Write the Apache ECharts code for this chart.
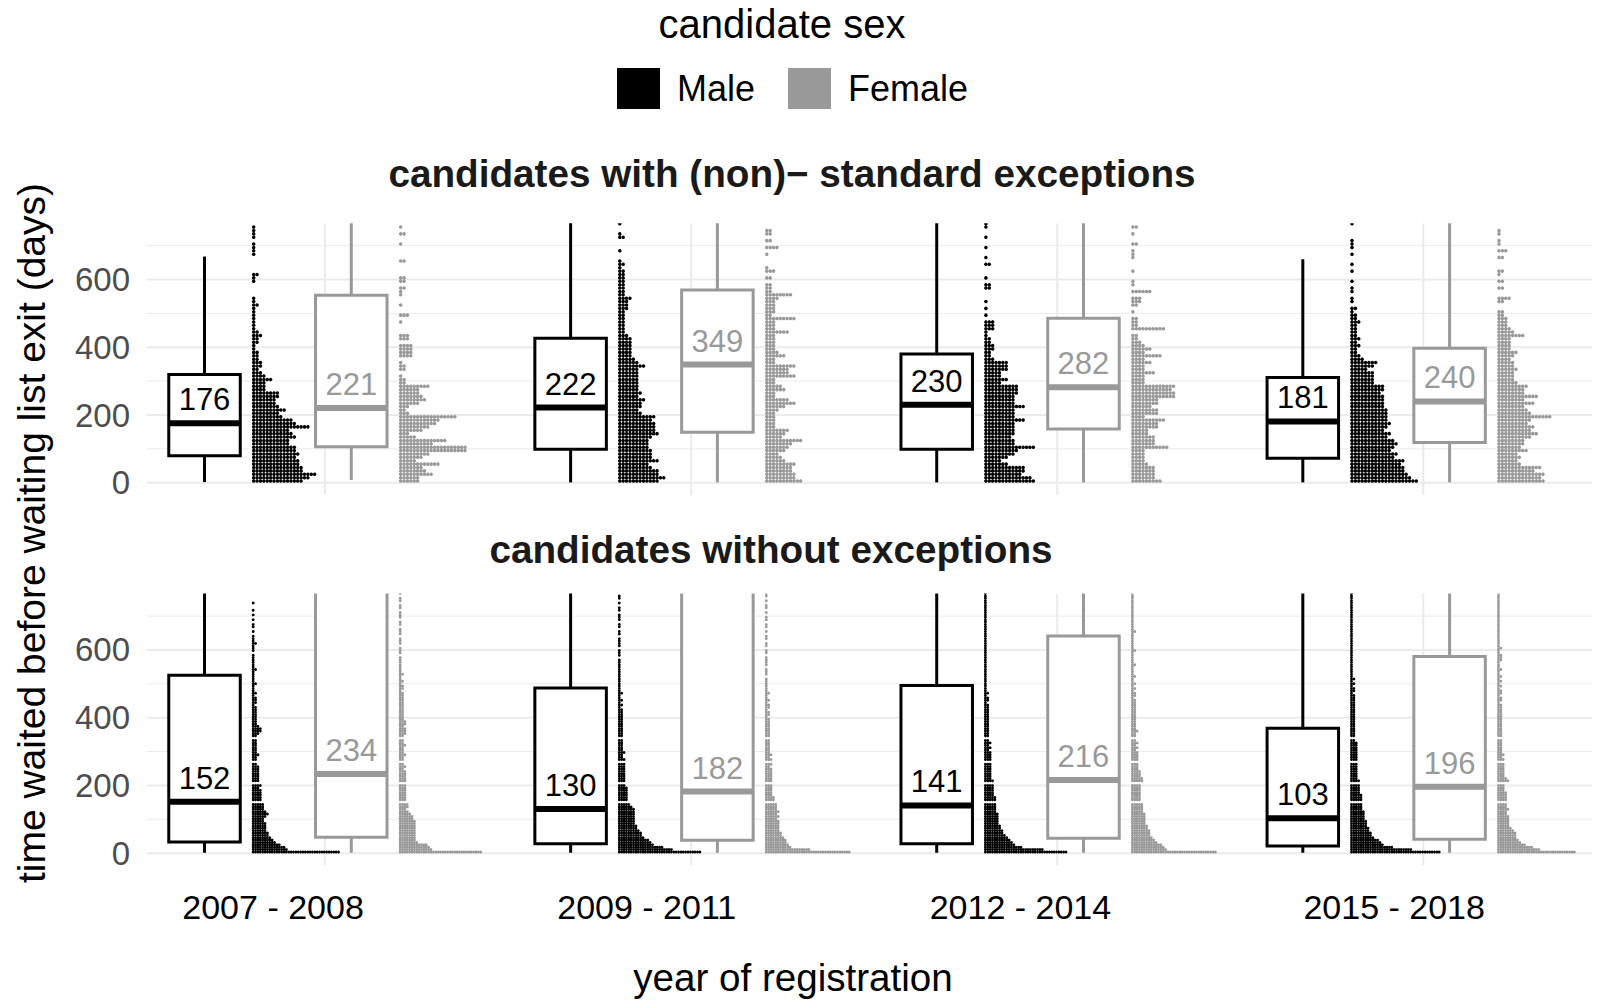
<!DOCTYPE html>
<html>
<head>
<meta charset="utf-8">
<script src="https://cdn.jsdelivr.net/npm/echarts@6/dist/echarts.min.js"></script>
<style>
html,body{margin:0;padding:0;background:#fff;}
#chart{width:1600px;height:1006px;}
</style>
</head>
<body>
<div id="chart"></div>
<script>
// ---------------- DATA ----------------
const periods = ['2007 - 2008', '2009 - 2011', '2012 - 2014', '2015 - 2018'];
const sexes = ['Male', 'Female'];
const panelTitles = ['candidates with (non)\u2212 standard exceptions', 'candidates without exceptions'];
const yTicks = [0, 200, 400, 600];
const yMinorTicks = [100, 300, 500, 700];

// box statistics per period: [lower whisker, Q1, median, Q3, upper whisker] (days)
const boxExcMale      = [[2, 80, 176, 320, 668], [1, 99, 222, 427, 1100], [1, 99, 230, 380, 1000], [1, 72, 181, 311, 660]];
const boxExcFemale    = [[8, 106, 221, 554, 1200], [1, 149, 349, 569, 1200], [1, 159, 282, 486, 1100], [1, 119, 240, 397, 1000]];
const boxNoExcMale    = [[1, 33, 152, 525, 1300], [1, 28, 130, 488, 1200], [1, 28, 141, 495, 1200], [1, 21, 103, 369, 900]];
const boxNoExcFemale  = [[1, 47, 234, 850, 1700], [1, 38, 182, 800, 1600], [1, 44, 216, 641, 1500], [1, 41, 196, 581, 1400]];

// dot-plot bin widths (days)
const binExc = 10;
const binNoExc = 7;

// dot counts per bin (bin i covers i*bin .. (i+1)*bin days), one list per period
const dotsExcMale = [
 [15,17,19,15,15,14,14,13,14,13, 13,11,11,13,12,11,17,13,12,9, 8,10,8,7,7,8,8,4,4,4, 6,4,3,2,3,3,2,2,2,1, 1,2,2,3,2,1,1,1,1,1, 1,1,2,1,1,0,0,0,0,1, 1,2,0,0,0,0,0,1,1,1, 1,0,1,1,1,1,0],
 [12,14,12,12,10,9,12,10,10,10, 9,9,9,10,12,11,11,11,10,11, 7,6,7,7,8,6,7,6,6,6, 6,6,6,6,8,6,5,4,4,4, 4,4,4,3,2,2,2,2,2,2, 2,3,3,3,4,2,2,2,2,2, 2,2,2,1,2,1,0,0,1,0, 0,0,2,1,0,0,1],
 [15,14,11,12,12,7,5,7,9,10, 15,9,9,8,9,9,9,9,12,9, 9,9,12,9,9,9,10,10,10,5, 7,5,5,7,7,7,3,2,2,3, 3,2,2,1,1,3,3,3,0,1, 0,1,0,1,0,0,0,2,2,0, 1,0,0,0,2,0,1,0,0,1, 0,0,1,0,0,1,1],
 [20,18,17,16,16,15,16,13,14,12, 13,14,13,11,12,10,11,12,11,11, 11,11,10,10,10,10,9,10,10,7, 7,7,7,5,7,8,4,3,2,2, 3,2,3,2,2,2,2,3,2,2, 1,2,0,1,1,0,1,1,0,1, 0,0,1,0,1,0,0,1,0,1, 1,1,0,0,0,0,1]
];
const dotsExcFemale = [
 [6,6,10,8,7,12,5,7,9,20, 20,10,14,5,3,7,9,11,12,17, 3,2,3,6,8,7,6,6,9,2, 2,1,0,2,2,1,0,4,4,4, 4,0,3,3,0,0,0,1,0,3, 0,0,1,0,0,1,1,2,0,2, 2,0,0,0,0,2,0,0,0,0, 1,0,0,2,0,1,0],
 [11,9,9,8,8,9,6,5,4,6, 7,8,11,5,6,7,3,3,3,3, 3,4,6,9,7,3,3,6,5,3, 3,9,7,7,9,3,3,6,4,3, 3,3,3,3,7,3,3,3,9,2, 3,3,3,3,4,8,2,2,2,0, 2,0,3,1,0,0,0,1,0,4, 0,2,0,2,2,0,0],
 [9,7,7,7,7,5,4,4,4,4, 11,7,7,7,5,5,8,8,10,4, 8,8,6,8,8,13,13,12,13,4, 4,4,7,4,4,6,4,9,4,6, 4,3,2,2,0,10,2,2,2,0, 1,0,2,3,3,0,6,0,1,1, 0,0,1,0,0,0,1,1,1,0, 2,0,0,1,0,2,0],
 [14,13,14,11,13,7,6,7,6,9, 7,8,8,10,12,10,11,9,10,16, 10,9,8,11,8,12,8,8,9,6, 5,5,5,6,5,5,4,5,6,4, 4,4,4,8,5,4,3,3,3,2, 2,0,0,2,4,0,0,2,0,2, 0,1,2,0,0,0,2,0,3,0, 1,1,0,1,1,0,0]
];
const dotsNoExcMale = [
 [37,15,14,12,10,9,8,7,7,6, 6,6,6,5,5,6,7,6,5,5, 5,4,4,4,4,4,4,3,4,3, 3,3,3,3,3,3,3,2,3,2, 2,3,2,2,2,2,2,2,2,2, 3,4,4,3,2,2,2,2,2,2, 2,2,1,2,2,2,1,2,1,1, 1,2,1,1,1,1,1,2,1,1, 1,1,1,1,0,1,1,1,2,1, 1,1,0,1,0,1,1,0,1,0, 1,0,1,0,0,1,0,0,0,0],
 [35,23,19,15,14,13,11,10,10,9, 8,8,7,7,7,7,7,7,7,6, 5,5,4,4,4,4,4,4,3,3, 3,3,3,3,3,3,3,3,2,3, 2,2,3,2,2,2,2,2,2,2, 2,2,2,2,2,2,2,2,2,2, 2,1,2,1,2,1,1,2,1,1, 1,1,1,1,1,1,1,1,1,1, 1,1,0,1,1,1,0,1,1,1, 1,0,1,1,0,1,1,0,1,1, 1,0,1,1,0,1,0,1,1,0],
 [35,25,16,13,12,11,10,9,8,8, 7,7,6,6,6,6,6,5,5,5, 5,5,5,5,4,4,4,4,4,4, 4,3,3,3,3,3,3,3,3,3, 3,3,3,2,3,2,3,2,2,2, 2,2,2,2,2,2,2,2,2,2, 2,2,2,1,2,2,1,2,1,1, 1,1,1,1,1,1,1,1,1,1, 1,1,1,1,1,1,1,1,1,1, 1,1,1,1,1,1,1,1,1,1, 1,1,1,1,1,1,1,1,1,1],
 [38,26,18,14,13,12,10,9,9,8, 8,7,7,7,6,6,6,6,5,5, 5,5,5,5,5,4,4,4,4,4, 4,3,3,3,3,3,3,3,3,3, 3,3,3,3,3,3,3,2,2,2, 2,2,2,2,2,2,2,2,2,2, 2,2,2,2,2,2,2,1,2,2, 1,2,1,2,1,1,1,1,1,1, 1,1,1,1,1,1,1,1,1,1, 1,1,1,1,1,1,1,1,1,1, 1,1,1,1,1,1,1,1,1,1]
];
const dotsNoExcFemale = [
 [35,14,13,12,8,7,7,7,7,7, 7,7,7,7,6,6,5,4,3,4, 4,4,3,3,3,3,3,3,3,3, 3,3,3,3,3,2,3,2,3,2, 2,3,2,2,2,3,2,2,2,2, 3,3,3,2,3,3,2,2,2,2, 2,2,2,2,2,2,2,2,1,2, 2,1,2,1,1,2,1,1,1,1, 1,1,1,0,1,1,1,0,1,1, 1,0,1,1,1,0,1,1,0,1, 1,1,0,1,1,0,1,1,0,1],
 [36,19,11,10,9,9,8,7,7,6, 6,6,6,6,5,6,5,6,5,5, 5,4,4,4,3,3,3,3,3,3, 3,3,3,3,3,3,2,3,2,3, 2,3,2,2,2,2,2,2,2,2, 2,2,2,2,2,2,2,1,2,2, 1,2,2,1,2,1,1,2,1,1, 1,1,1,1,0,1,1,1,0,1, 1,1,1,0,1,1,0,1,1,0, 1,1,0,1,0,1,1,0,1,1, 0,1,0,1,1,0,1,0,1,1],
 [36,15,14,13,11,10,9,8,8,8, 7,7,6,6,6,6,6,5,5,5, 5,5,4,4,4,4,4,4,4,3, 5,5,4,4,4,3,3,3,3,3, 3,3,3,2,3,2,3,2,2,2, 2,3,2,2,2,2,2,2,2,2, 2,2,2,2,2,1,2,2,1,2, 1,2,1,1,2,1,1,1,1,2, 1,1,1,1,1,2,1,1,1,1, 1,1,1,2,1,1,1,1,1,1, 1,1,1,1,1,1,1,1,1,1],
 [33,18,15,12,10,9,8,8,8,7, 6,5,5,5,5,5,4,4,5,4, 4,4,4,4,4,4,3,3,3,3, 5,4,3,3,3,3,3,3,2,3, 2,3,2,2,2,2,2,2,2,2, 2,2,2,2,2,2,2,2,2,2, 2,2,2,1,2,2,1,2,2,1, 2,1,2,1,2,1,1,2,1,1, 1,2,2,2,1,1,2,1,1,1, 1,1,1,1,1,1,1,1,1,1, 1,1,1,1,1,1,1,1,1,1]
];

// ---------------- LAYOUT / STYLE ----------------
const FONT = '"Liberation Sans", Arial, Helvetica, sans-serif';
const COL = {Male: '#000000', Female: '#999999'};
const GRID_COL = '#ebebeb';
const X_MIN = 0.5138, X_MAX = 4.4608;       // period i sits at x = i (1..4)
const OFF = {MaleBox: -0.3291, FemaleBox: 0.0718, MaleDots: -0.1994, FemaleDots: 0.2021};
const BOX_W = 0.1953;
const Y_MIN = -36.5, Y_MAX = 766.5;

function boxSeries(name, gi, stats) {
  const color = COL[name], off = OFF[name + 'Box'];
  return {
    type: 'custom', name: name, xAxisIndex: gi, yAxisIndex: gi, clip: true, z: 4,
    itemStyle: {color: color},
    data: stats.map((s, p) => [p + 1].concat(s)),
    renderItem: function (params, api) {
      const p = api.value(0);
      const lo = api.value(1), q1 = api.value(2), med = api.value(3), q3 = api.value(4), hi = api.value(5);
      const cx = api.coord([p + off, med])[0];
      const w = api.size([BOX_W, 0])[0];
      const yLo = api.coord([p, lo])[1], yQ1 = api.coord([p, q1])[1], yMed = api.coord([p, med])[1];
      const yQ3 = api.coord([p, q3])[1], yHi = api.coord([p, hi])[1];
      return {
        type: 'group',
        children: [
          {type: 'line', shape: {x1: cx, y1: yQ1, x2: cx, y2: yLo}, style: {stroke: color, lineWidth: 3}},
          {type: 'line', shape: {x1: cx, y1: yQ3, x2: cx, y2: yHi}, style: {stroke: color, lineWidth: 3}},
          {type: 'rect', shape: {x: cx - w / 2, y: yQ3, width: w, height: yQ1 - yQ3}, style: {fill: '#ffffff', stroke: color, lineWidth: 3}},
          {type: 'line', shape: {x1: cx - w / 2, y1: yMed, x2: cx + w / 2, y2: yMed}, style: {stroke: color, lineWidth: 6}},
          {type: 'text', style: {text: String(Math.round(med)), x: cx, y: yMed - 8, align: 'center', verticalAlign: 'bottom',
            textAlign: 'center', textVerticalAlign: 'bottom', fontSize: 31, fontFamily: FONT, fill: color}}
        ]
      };
    }
  };
}

function dotSeries(name, gi, stacks, bin, rFactor) {
  const color = COL[name], off = OFF[name + 'Dots'];
  const data = [];
  stacks.forEach((rows, p) => rows.forEach((n, i) => { if (n > 0) data.push([p + 1, bin * (i + 0.5), n]); }));
  return {
    type: 'custom', name: name, xAxisIndex: gi, yAxisIndex: gi, clip: true, z: 3,
    itemStyle: {color: color},
    data: data,
    renderItem: function (params, api) {
      const pt = api.coord([api.value(0) + off, api.value(1)]);
      const n = api.value(2);
      const d = api.size([0, bin])[1];
      const r = d * rFactor;
      const children = [];
      for (let j = 0; j < n; j++) {
        children.push({type: 'circle', shape: {cx: pt[0] + d * (j + 0.5), cy: pt[1], r: r}, style: {fill: color}});
      }
      return {type: 'group', children: children};
    }
  };
}

function gridSeries(gi) {
  const data = yTicks.map(v => [v, 0]).concat(yMinorTicks.map(v => [v, 1])).concat(periods.map((c, i) => [i + 1, 2]));
  return {
    type: 'custom', xAxisIndex: gi, yAxisIndex: gi, clip: true, z: 1, silent: true,
    data: data,
    renderItem: function (params, api) {
      const cs = params.coordSys;
      const v = api.value(0), kind = api.value(1);
      if (kind === 2) {
        const x = api.coord([v, 0])[0];
        return {type: 'line', shape: {x1: x, y1: cs.y, x2: x, y2: cs.y + cs.height}, style: {stroke: GRID_COL, lineWidth: 2}};
      }
      const y = api.coord([1, v])[1];
      return {type: 'line', shape: {x1: cs.x, y1: y, x2: cs.x + cs.width, y2: y},
        style: {stroke: GRID_COL, lineWidth: kind === 0 ? 2 : 1}};
    }
  };
}

const yAxisCommon = {
  type: 'value', min: Y_MIN, max: Y_MAX,
  axisLine: {show: false}, axisTick: {show: false}, splitLine: {show: false},
  axisLabel: {customValues: yTicks, fontSize: 33, color: '#4d4d4d', fontFamily: FONT, margin: 17}
};

const option = {
  animation: false,
  backgroundColor: '#ffffff',
  textStyle: {fontFamily: FONT},
  grid: [
    {left: 147, right: 8, top: 223.2, height: 271.9},
    {left: 147, right: 8, top: 593.6, height: 271.9},
    {left: 86.2, width: 1494.8, top: 864.5, height: 1}
  ],
  xAxis: [
    {gridIndex: 0, type: 'value', min: X_MIN, max: X_MAX, show: false},
    {gridIndex: 1, type: 'value', min: X_MIN, max: X_MAX, show: false},
    {gridIndex: 2, type: 'category', data: periods, position: 'bottom',
      axisLine: {show: false}, axisTick: {show: false}, splitLine: {show: false},
      axisLabel: {fontSize: 34, color: '#000000', fontFamily: FONT, margin: 24}}
  ],
  yAxis: [
    Object.assign({gridIndex: 0}, yAxisCommon),
    Object.assign({gridIndex: 1}, yAxisCommon),
    {gridIndex: 2, type: 'value', show: false}
  ],
  legend: {
    data: sexes, left: 617, top: 68, itemWidth: 43, itemHeight: 41, itemGap: 33, icon: 'rect', padding: 0,
    selectedMode: false,
    textStyle: {fontSize: 36, color: '#000000', fontFamily: FONT, padding: [0, 0, 0, 12]}
  },
  graphic: [
    {type: 'text', x: 782, y: 24, style: {text: 'candidate sex', fontSize: 40, fontFamily: FONT, fill: '#000',
      align: 'center', verticalAlign: 'middle', textAlign: 'center', textVerticalAlign: 'middle'}},
    {type: 'text', x: 792, y: 173.5, style: {text: panelTitles[0], fontSize: 38.7, fontWeight: 'bold', fontFamily: FONT, fill: '#1a1a1a',
      align: 'center', verticalAlign: 'middle', textAlign: 'center', textVerticalAlign: 'middle'}},
    {type: 'text', x: 771, y: 549, style: {text: panelTitles[1], fontSize: 38.7, fontWeight: 'bold', fontFamily: FONT, fill: '#1a1a1a',
      align: 'center', verticalAlign: 'middle', textAlign: 'center', textVerticalAlign: 'middle'}},
    {type: 'text', x: 31, y: 533, rotation: Math.PI / 2, style: {text: 'time waited before waiting list exit (days)', fontSize: 39,
      fontFamily: FONT, fill: '#000', align: 'center', verticalAlign: 'middle', textAlign: 'center', textVerticalAlign: 'middle'}},
    {type: 'text', x: 793, y: 977.5, style: {text: 'year of registration', fontSize: 38.6, fontFamily: FONT, fill: '#000',
      align: 'center', verticalAlign: 'middle', textAlign: 'center', textVerticalAlign: 'middle'}}
  ],
  series: [
    gridSeries(0), gridSeries(1),
    boxSeries('Male', 0, boxExcMale), boxSeries('Female', 0, boxExcFemale),
    dotSeries('Male', 0, dotsExcMale, binExc, 0.52), dotSeries('Female', 0, dotsExcFemale, binExc, 0.52),
    boxSeries('Male', 1, boxNoExcMale), boxSeries('Female', 1, boxNoExcFemale),
    dotSeries('Male', 1, dotsNoExcMale, binNoExc, 0.6), dotSeries('Female', 1, dotsNoExcFemale, binNoExc, 0.6)
  ]
};

const chart = echarts.init(document.getElementById('chart'), null, {renderer: 'svg', width: 1600, height: 1006});
chart.setOption(option);
</script>
</body>
</html>
